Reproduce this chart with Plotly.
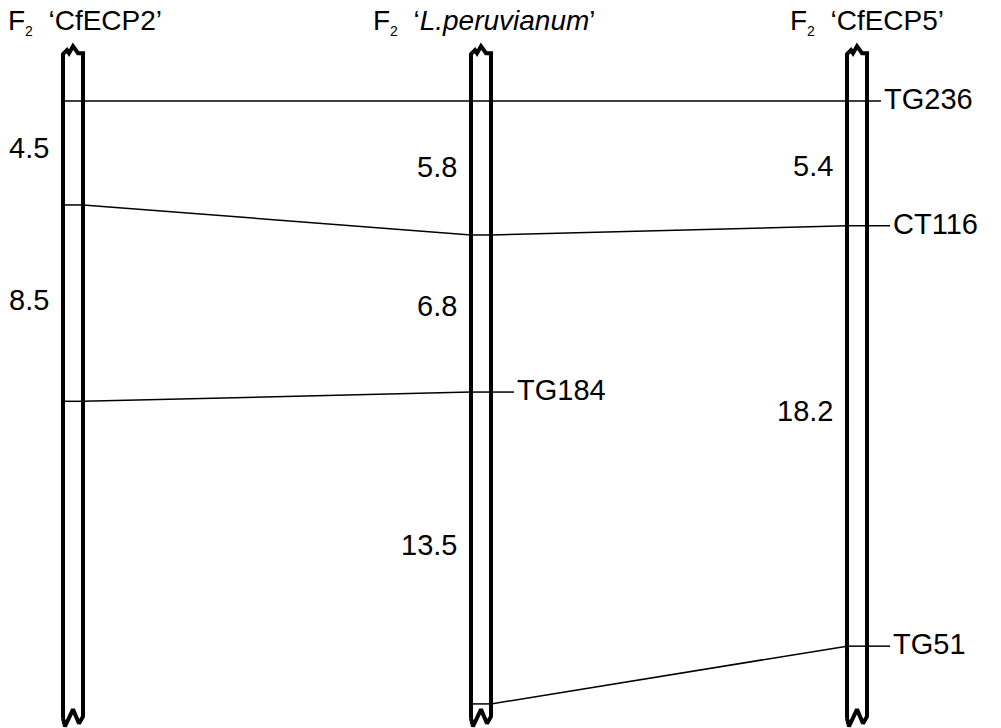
import plotly.graph_objects as go

# ---------------- data ----------------
map_titles = ["F<sub><span style='font-size:14px'>2</span></sub>  ‘CfECP2’",
              "F<sub><span style='font-size:14px'>2</span></sub>  ‘<i>L.peruvianum</i>’",
              "F<sub><span style='font-size:14px'>2</span></sub>  ‘CfECP5’"]
markers_cfecp2 = ["TG236", "CT116", "TG184"]
dist_cfecp2 = [4.5, 8.5]
markers_lper = ["TG236", "CT116", "TG184", "TG51"]
dist_lper = [5.8, 6.8, 13.5]
markers_cfecp5 = ["TG236", "CT116", "TG51"]
dist_cfecp5 = [5.4, 18.2]
chrom_extent = [-2.2, 26.9]  # cM, shown chromosome segment (top, bottom)

maps = [(markers_cfecp2, dist_cfecp2),
        (markers_lper, dist_lper),
        (markers_cfecp5, dist_cfecp5)]

# ---------------- layout / style ----------------
W, H = 1001, 728
PX = 23.1          # pixels per cM
Y0 = 101           # pixel row of 0 cM
map_x = [73, 481, 857]
HALF = 10
title_x = [85, 484, 867]
FONT = "Liberation Sans, Arial, sans-serif"
FS = 29
LEAD = 23
lead_px = {"TG236": 14}
dist_nudge_px = {(0, 0): -5, (0, 1): -3, (1, 0): -1, (1, 1): -8, (1, 2): -3,
                 (2, 0): 3, (2, 1): -25}


def cm(px):
    return (px - Y0) / PX


def d(px):
    return px / PX


positions = []
for mk, ds in maps:
    p = [0.0]
    for v in ds:
        p.append(p[-1] + v)
    positions.append(dict(zip(mk, p)))

fig = go.Figure()

# connecting lines between maps + across bars
lx, ly = [], []
for i, pos in enumerate(positions):
    cx = map_x[i]
    for m, y in pos.items():
        lx += [cx - HALF, cx + HALF, None]
        ly += [y, y, None]
    if i + 1 < len(positions):
        nxt = positions[i + 1]
        for m, y in pos.items():
            if m in nxt:
                lx += [cx + HALF, map_x[i + 1] - HALF, None]
                ly += [y, nxt[m], None]

annotations = []
# marker labels at rightmost occurrence
all_markers = []
for mk, _ in maps:
    for m in mk:
        if m not in all_markers:
            all_markers.append(m)
for m in all_markers:
    last = max(i for i, pos in enumerate(positions) if m in pos)
    cx = map_x[last]
    y = positions[last][m]
    ld = lead_px.get(m, LEAD)
    lx += [cx + HALF, cx + HALF + ld, None]
    ly += [y, y, None]
    annotations.append(dict(x=cx + HALF + ld + 1, y=y - d(2), text=m, xref="x", yref="y",
                            xanchor="left", yanchor="middle", showarrow=False,
                            font=dict(family=FONT, size=FS, color="black")))

fig.add_trace(go.Scatter(x=lx, y=ly, mode="lines",
                         line=dict(color="black", width=1.5), hoverinfo="skip"))

# chromosome bars
top_prof = [(-HALF, 4), (-6, 0), (-4, 3), (0, -4), (5, 3), (HALF, 3)]
bot_prof = [(-HALF, -4), (-8, 4), (0, -13), (6, 1), (HALF, -6)]
top_px = Y0 + chrom_extent[0] * PX
bot_px = Y0 + chrom_extent[1] * PX
for i, cx in enumerate(map_x):
    bx, by = [], []
    for dx, dy in bot_prof:
        bx.append(cx + dx)
        by.append(cm(bot_px + dy))
    for dx, dy in reversed(top_prof):
        bx.append(cx + dx)
        by.append(cm(top_px + dy))
    bx.append(bx[0])
    by.append(by[0])
    fig.add_trace(go.Scatter(x=bx, y=by, mode="lines",
                             line=dict(color="black", width=4),
                             hoverinfo="skip"))

# distance labels
for i, (mk, ds) in enumerate(maps):
    pos = positions[i]
    for j, v in enumerate(ds):
        mid = (pos[mk[j]] + pos[mk[j + 1]]) / 2 + d(dist_nudge_px.get((i, j), 0))
        annotations.append(dict(x=map_x[i] - HALF - 12, y=mid, text=f"{v}",
                                xref="x", yref="y", xanchor="right",
                                yanchor="middle", showarrow=False,
                                font=dict(family=FONT, size=FS, color="black")))

# titles
for i, t in enumerate(map_titles):
    annotations.append(dict(x=title_x[i], y=cm(22), text=t, xref="x", yref="y",
                            xanchor="center", yanchor="middle", showarrow=False,
                            borderpad=0,
                            font=dict(family=FONT, size=FS - 1, color="black")))

fig.update_layout(
    width=W, height=H, margin=dict(l=0, r=0, t=0, b=0),
    paper_bgcolor="white", plot_bgcolor="white", showlegend=False,
    hovermode=False,
    xaxis=dict(range=[0, W], visible=False, fixedrange=True),
    yaxis=dict(range=[cm(H), cm(0)], visible=False, fixedrange=True),
    annotations=annotations,
)

fig.write_html("out.html", config={"displayModeBar": False, "staticPlot": True},
               post_script="document.body.style.margin='0';document.body.style.overflow='hidden';")
